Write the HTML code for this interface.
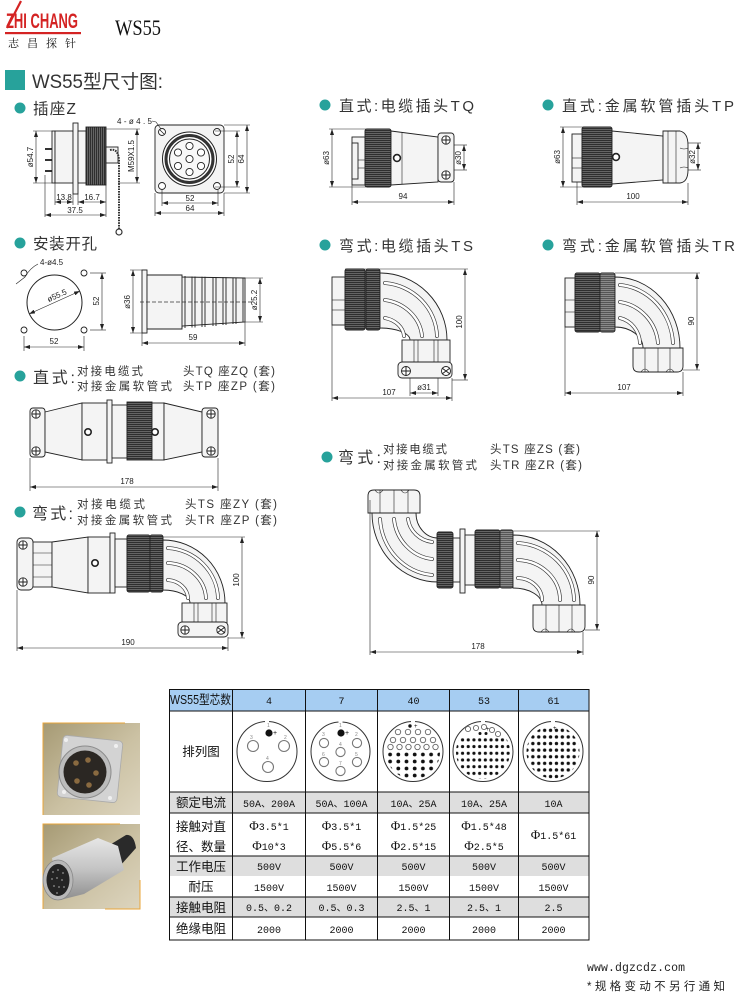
<!DOCTYPE html>
<html><head><meta charset="utf-8">
<style>
html,body{margin:0;padding:0;background:#fff;width:740px;height:996px;overflow:hidden;}
svg{display:block;}
.t{font-family:"Liberation Sans","Noto Sans CJK SC",sans-serif;fill:#333;}
.dim{font-family:"Liberation Sans",sans-serif;font-size:8px;fill:#222;}
.o{stroke:#222;stroke-width:0.9;fill:#f4f4f4;}
.k{stroke:#222;stroke-width:0.9;fill:url(#kh);}
.kv{stroke:#222;stroke-width:0.9;fill:url(#kv);}
.km{stroke:#222;stroke-width:0.9;fill:url(#km);}
.d{stroke:#222;stroke-width:0.6;fill:none;}
.da{stroke:#222;stroke-width:0.6;fill:none;marker-start:url(#ar);marker-end:url(#ar);}
.sl{stroke:#333;stroke-width:3.8;fill:none;stroke-linecap:round;}
.sw{stroke:#fff;stroke-width:2.5;fill:none;stroke-linecap:round;}
.sc{stroke:#222;stroke-width:0.9;fill:#fff;}
.cr{stroke:#222;stroke-width:1;}
.tb{font-family:"Liberation Sans","Noto Sans CJK SC",sans-serif;font-size:12.5px;fill:#111;}
.tv{font-family:"Liberation Mono","Noto Sans CJK SC",monospace;font-size:10px;fill:#111;}
.pn{font-family:"Liberation Sans",sans-serif;font-size:5px;fill:#888;}
</style></head><body>
<svg width="740" height="996" viewBox="0 0 740 996" xmlns="http://www.w3.org/2000/svg">
<defs>
<marker id="ar" viewBox="0 0 6 4" refX="6" refY="2" markerWidth="6" markerHeight="4" markerUnits="userSpaceOnUse" orient="auto-start-reverse"><path d="M0,0L6,2L0,4z" fill="#222"/></marker>
<pattern id="kh" width="4" height="2" patternUnits="userSpaceOnUse"><rect width="4" height="2" fill="#2e2e2e"/><rect y="1.3" width="4" height="0.7" fill="#7c7c7c"/></pattern>
<pattern id="kv" width="2" height="4" patternUnits="userSpaceOnUse"><rect width="2" height="4" fill="#2e2e2e"/><rect x="1.3" width="0.7" height="4" fill="#7c7c7c"/></pattern>
<pattern id="km" width="4" height="2" patternUnits="userSpaceOnUse"><rect width="4" height="2" fill="#555"/><rect y="1.3" width="4" height="0.7" fill="#a0a0a0"/></pattern>
<pattern id="d40" x="386" y="751" width="8.2" height="7" patternUnits="userSpaceOnUse"><circle cx="4.1" cy="3.5" r="1.9" fill="#111"/></pattern>
<pattern id="d53" x="454" y="736.5" width="5.7" height="6.7" patternUnits="userSpaceOnUse"><circle cx="2.85" cy="3.35" r="1.6" fill="#111"/></pattern>
<pattern id="d61" x="524" y="727" width="5.9" height="6.6" patternUnits="userSpaceOnUse"><circle cx="2.95" cy="3.3" r="1.7" fill="#111"/></pattern>
<clipPath id="c40"><circle cx="413" cy="752" r="27"/></clipPath>
<clipPath id="c53"><circle cx="483" cy="752" r="27"/></clipPath>
<clipPath id="c61"><circle cx="553" cy="752" r="26.5"/></clipPath>
<linearGradient id="ph" x1="0" y1="0" x2="1" y2="1"><stop offset="0" stop-color="#a69a74"/><stop offset="0.55" stop-color="#cbc1a3"/><stop offset="1" stop-color="#ddd5bf"/></linearGradient>
<linearGradient id="sil" x1="0" y1="0" x2="0" y2="1"><stop offset="0" stop-color="#e6e6e6"/><stop offset="0.5" stop-color="#c4c4c4"/><stop offset="1" stop-color="#8e8e8e"/></linearGradient>
</defs>

<!-- ===== LOGO ===== -->
<path d="M21,1 L7,28" stroke="#d42323" stroke-width="2.2"/>
<text x="6" y="28" font-family="Liberation Sans, sans-serif" font-weight="bold" font-size="21" fill="#d42323" textLength="72" lengthAdjust="spacingAndGlyphs">ZHI CHANG</text>
<rect x="5" y="32" width="76" height="2.2" fill="#d42323"/>
<text x="8" y="47" font-family="Noto Serif CJK SC, Noto Sans CJK SC, serif" font-size="11" fill="#111" textLength="68" lengthAdjust="spacing">志昌探针</text>
<text x="115" y="35" font-family="Liberation Serif, serif" font-size="22" fill="#111" textLength="46" lengthAdjust="spacingAndGlyphs">WS55</text>

<!-- ===== TITLE ===== -->
<rect x="5" y="70" width="20" height="20" fill="#27a29b"/>
<text x="32" y="88" class="t" font-size="19" textLength="131" lengthAdjust="spacingAndGlyphs">WS55型尺寸图:</text>

<!-- section titles -->
<g fill="#27a29b">
<circle cx="20" cy="108" r="5.5"/><circle cx="325" cy="105" r="5.5"/><circle cx="548" cy="105" r="5.5"/>
<circle cx="20" cy="243" r="5.5"/><circle cx="325" cy="245" r="5.5"/><circle cx="548" cy="245" r="5.5"/>
<circle cx="20" cy="376" r="5.5"/><circle cx="327" cy="457" r="5.5"/><circle cx="20" cy="512" r="5.5"/>
</g>
<text x="33" y="114" class="t" font-size="15.5" textLength="43">插座Z</text>
<text x="339" y="111" class="t" font-size="15" textLength="135">直式:电缆插头TQ</text>
<text x="562" y="111" class="t" font-size="15" textLength="172">直式:金属软管插头TP</text>
<text x="33" y="249" class="t" font-size="15.5" textLength="64">安装开孔</text>
<text x="339" y="251" class="t" font-size="15" textLength="134">弯式:电缆插头TS</text>
<text x="562" y="251" class="t" font-size="15" textLength="173">弯式:金属软管插头TR</text>

<text x="33" y="383" class="t" font-size="16" textLength="42">直式:</text>
<text x="77" y="375" class="t" font-size="11.5" textLength="66">对接电缆式</text>
<text x="77" y="390" class="t" font-size="11.5" textLength="95">对接金属软管式</text>
<text x="183" y="375" class="t" font-size="11.5" textLength="92">头TQ 座ZQ (套)</text>
<text x="183" y="390" class="t" font-size="11.5" textLength="92">头TP 座ZP (套)</text>

<text x="338" y="463" class="t" font-size="16" textLength="43">弯式:</text>
<text x="383" y="453" class="t" font-size="11.5" textLength="64">对接电缆式</text>
<text x="383" y="469" class="t" font-size="11.5" textLength="94">对接金属软管式</text>
<text x="490" y="453" class="t" font-size="11.5" textLength="90">头TS 座ZS (套)</text>
<text x="490" y="469" class="t" font-size="11.5" textLength="92">头TR 座ZR (套)</text>

<text x="32" y="519" class="t" font-size="16" textLength="41">弯式:</text>
<text x="77" y="508" class="t" font-size="11.5" textLength="68">对接电缆式</text>
<text x="77" y="524" class="t" font-size="11.5" textLength="95">对接金属软管式</text>
<text x="185" y="508" class="t" font-size="11.5" textLength="92">头TS 座ZY (套)</text>
<text x="185" y="524" class="t" font-size="11.5" textLength="92">头TR 座ZP (套)</text>

<!-- ===== 插座Z side view ===== -->
<g>
<line x1="45" y1="149" x2="55" y2="149" stroke="#333" stroke-width="2"/>
<line x1="45" y1="160" x2="55" y2="160" stroke="#333" stroke-width="2"/>
<line x1="45" y1="171" x2="55" y2="171" stroke="#333" stroke-width="2"/>
<rect class="o" x="52" y="131" width="3" height="52"/>
<rect class="o" x="55" y="131" width="18" height="52"/>
<rect class="o" x="73" y="123" width="5" height="71"/>
<rect class="o" x="78" y="131" width="8" height="52"/>
<rect class="kv" x="86" y="127" width="20" height="58"/>
<rect class="o" x="106" y="147" width="12" height="16"/>
<path d="M110,150 Q118,148 119,160 L119,229" stroke="#333" stroke-width="2" fill="none" stroke-dasharray="1.6 1"/>
<circle cx="119" cy="232" r="3" fill="none" stroke="#333" stroke-width="1.2"/>
</g>
<line class="d" x1="33" y1="131" x2="52" y2="131"/><line class="d" x1="33" y1="183" x2="52" y2="183"/>
<line class="da" x1="36" y1="131" x2="36" y2="183"/>
<text class="dim" transform="translate(33,157) rotate(-90)" text-anchor="middle">ø54.7</text>
<line class="d" x1="106" y1="129" x2="140" y2="129"/><line class="d" x1="118" y1="183" x2="140" y2="183"/>
<line class="da" x1="137" y1="129" x2="137" y2="183"/>
<text class="dim" transform="translate(134,156) rotate(-90)" text-anchor="middle">M59X1.5</text>
<line class="d" x1="45" y1="175" x2="45" y2="217"/><line class="d" x1="55" y1="183" x2="55" y2="205"/>
<line class="d" x1="73" y1="194" x2="73" y2="205"/><line class="d" x1="78" y1="194" x2="78" y2="205"/>
<line class="d" x1="106" y1="185" x2="106" y2="217"/>
<line class="da" x1="55" y1="202" x2="73" y2="202"/><line class="da" x1="78" y1="202" x2="106" y2="202"/>
<line class="da" x1="45" y1="215" x2="106" y2="215"/>
<text class="dim" x="64" y="200" text-anchor="middle">13.8</text>
<text class="dim" x="92" y="200" text-anchor="middle">16.7</text>
<text class="dim" x="75" y="213" text-anchor="middle">37.5</text>

<!-- 插座Z front view -->
<rect class="o" x="155" y="125" width="69" height="68" rx="4"/>
<g class="sc"><circle cx="162" cy="132" r="3.5"/><circle cx="217" cy="132" r="3.5"/><circle cx="162" cy="186" r="3.5"/><circle cx="217" cy="186" r="3.5"/></g>
<line x1="160" y1="130" x2="164" y2="134" stroke="#222" stroke-width="0.8"/>
<circle cx="189.5" cy="159" r="27" fill="#fff" stroke="#222" stroke-width="1"/>
<circle cx="189.5" cy="159" r="23.5" fill="none" stroke="#333" stroke-width="3"/>
<circle cx="189.5" cy="159" r="20" fill="#f8f8f8" stroke="#222" stroke-width="1"/>
<g class="sc" stroke-width="1.1"><circle cx="189.5" cy="146" r="3.6"/><circle cx="178" cy="152.5" r="3.6"/><circle cx="201" cy="152.5" r="3.6"/><circle cx="189.5" cy="159" r="3.6"/><circle cx="178" cy="166" r="3.6"/><circle cx="201" cy="166" r="3.6"/><circle cx="189.5" cy="172" r="3.6"/></g>
<text class="dim" x="117" y="124" font-size="8.5" textLength="35">4-ø4.5</text>
<path class="d" d="M152,121 L156,122 L161,129"/>
<line class="d" x1="215" y1="131" x2="240" y2="131"/><line class="d" x1="215" y1="187" x2="240" y2="187"/>
<line class="d" x1="224" y1="125" x2="250" y2="125"/><line class="d" x1="224" y1="193" x2="250" y2="193"/>
<line class="da" x1="237" y1="131" x2="237" y2="187"/><line class="da" x1="247" y1="125" x2="247" y2="193"/>
<text class="dim" transform="translate(234,159) rotate(-90)" text-anchor="middle">52</text>
<text class="dim" transform="translate(244,159) rotate(-90)" text-anchor="middle">64</text>
<line class="d" x1="162" y1="190" x2="162" y2="206"/><line class="d" x1="218" y1="190" x2="218" y2="206"/>
<line class="d" x1="155" y1="193" x2="155" y2="216"/><line class="d" x1="224" y1="193" x2="224" y2="216"/>
<line class="da" x1="162" y1="203" x2="218" y2="203"/><line class="da" x1="155" y1="213" x2="224" y2="213"/>
<text class="dim" x="190" y="201" text-anchor="middle">52</text>
<text class="dim" x="190" y="211" text-anchor="middle">64</text>

<!-- ===== TQ ===== -->
<line class="d" x1="329" y1="129" x2="366" y2="129"/><line class="d" x1="329" y1="187" x2="366" y2="187"/>
<line class="da" x1="332" y1="129" x2="332" y2="187"/>
<text class="dim" transform="translate(329,158) rotate(-90)" text-anchor="middle">ø63</text>
<rect class="o" x="352" y="137" width="13" height="48"/>
<rect class="o" x="352" y="143" width="6" height="36"/>
<line class="d" x1="358" y1="160" x2="365" y2="160"/><line class="d" x1="358" y1="168" x2="365" y2="168"/>
<rect class="k" x="365" y="129" width="26" height="58" rx="2"/>
<path class="o" d="M391,131 L438,137 L438,182 L391,185 Z"/>
<line class="d" x1="402" y1="132.5" x2="402" y2="184.5"/>
<circle cx="397" cy="158" r="3.4" fill="#fff" stroke="#222" stroke-width="1.6"/>
<rect class="o" x="438" y="133" width="16" height="49" rx="3"/>
<g class="sc"><circle cx="446" cy="140" r="4.2"/><circle cx="446" cy="175" r="4.2"/></g>
<path class="cr" d="M442,140h8M446,136v8M442,175h8M446,171v8"/>
<line class="d" x1="454" y1="145" x2="467" y2="145"/><line class="d" x1="454" y1="170" x2="467" y2="170"/>
<line class="da" x1="464" y1="145" x2="464" y2="170"/>
<text class="dim" transform="translate(461,158) rotate(-90)" text-anchor="middle">ø30</text>
<line class="d" x1="352" y1="185" x2="352" y2="205"/><line class="d" x1="454" y1="182" x2="454" y2="205"/>
<line class="da" x1="352" y1="202" x2="454" y2="202"/>
<text class="dim" x="403" y="199" text-anchor="middle">94</text>

<!-- ===== TP ===== -->
<line class="d" x1="560" y1="127" x2="590" y2="127"/><line class="d" x1="560" y1="187" x2="590" y2="187"/>
<line class="da" x1="563" y1="127" x2="563" y2="187"/>
<text class="dim" transform="translate(560,157) rotate(-90)" text-anchor="middle">ø63</text>
<rect class="o" x="572" y="134" width="10" height="48"/>
<line class="d" x1="572" y1="158" x2="582" y2="158"/><line class="d" x1="572" y1="168" x2="582" y2="168"/>
<rect class="k" x="582" y="127" width="30" height="60" rx="2"/>
<path class="o" d="M612,131 L663,136 L663,180 L612,184 Z"/>
<circle cx="616" cy="157" r="3.4" fill="#fff" stroke="#222" stroke-width="1.6"/>
<path class="o" d="M663,131 L680,131 Q688,133 688,145 L688,170 Q688,182 680,183 L663,183 Z"/>
<path class="d" d="M668,131 V183 M676,131 V183 M680,148 q4,2 8,0 M680,168 q4,-2 8,0" stroke-width="0.8"/>
<line class="d" x1="688" y1="143" x2="701" y2="143"/><line class="d" x1="688" y1="170" x2="701" y2="170"/>
<line class="da" x1="698" y1="143" x2="698" y2="170"/>
<text class="dim" transform="translate(695,157) rotate(-90)" text-anchor="middle">ø32</text>
<line class="d" x1="577" y1="182" x2="577" y2="205"/><line class="d" x1="688" y1="183" x2="688" y2="205"/>
<line class="da" x1="577" y1="202" x2="688" y2="202"/>
<text class="dim" x="633" y="199" text-anchor="middle">100</text>

<!-- ===== 安装开孔 ===== -->
<circle cx="54.5" cy="302.5" r="27.5" fill="none" stroke="#222" stroke-width="1"/>
<g fill="#fff" stroke="#222" stroke-width="0.9"><circle cx="24" cy="273" r="3"/><circle cx="84" cy="273" r="3"/><circle cx="24" cy="330" r="3"/><circle cx="84" cy="330" r="3"/></g>
<line class="da" x1="29" y1="314" x2="80" y2="291"/>
<text class="dim" transform="translate(58,298) rotate(-24)" text-anchor="middle">ø55.5</text>
<path class="d" d="M16,284 L25,277 Q30,268 38,264"/>
<text class="dim" x="40" y="265">4-ø4.5</text>
<line class="d" x1="90" y1="273" x2="106" y2="273"/><line class="d" x1="90" y1="330" x2="106" y2="330"/>
<line class="da" x1="102" y1="273" x2="102" y2="330"/>
<text class="dim" transform="translate(99,301) rotate(-90)" text-anchor="middle">52</text>
<line class="d" x1="24" y1="336" x2="24" y2="351"/><line class="d" x1="84" y1="336" x2="84" y2="351"/>
<line class="da" x1="24" y1="347" x2="84" y2="347"/>
<text class="dim" x="54" y="344" text-anchor="middle">52</text>

<line class="d" x1="130" y1="270" x2="147" y2="270"/><line class="d" x1="130" y1="333" x2="147" y2="333"/>
<line class="da" x1="133" y1="270" x2="133" y2="333"/>
<text class="dim" transform="translate(130,302) rotate(-90)" text-anchor="middle">ø36</text>
<rect class="o" x="142" y="270" width="5" height="63"/>
<path class="o" d="M147,275 L182,275 L182,277 L245,278 L245,322 L182,326 L182,329 L147,329 Z"/>
<g stroke="#222" stroke-width="0.9"><path d="M182,276 V328 M185,276 V328 M192,276.5 V327.5 M195,276.5 V327.5 M202,276.8 V327 M205,276.8 V327 M213,277 V326 M216,277 V326 M223,277.3 V325 M226,277.3 V325 M233,277.6 V324 M236,277.6 V324 M243,278 V322"/></g>
<line x1="140" y1="302" x2="252" y2="302" stroke="#333" stroke-width="0.7" stroke-dasharray="4 2"/>
<line class="d" x1="245" y1="278" x2="263" y2="278"/><line class="d" x1="245" y1="322" x2="263" y2="322"/>
<line class="da" x1="260" y1="278" x2="260" y2="322"/>
<text class="dim" transform="translate(257,300) rotate(-90)" text-anchor="middle">ø25.2</text>
<line class="d" x1="142" y1="333" x2="142" y2="346"/><line class="d" x1="245" y1="322" x2="245" y2="346"/>
<line class="da" x1="142" y1="343" x2="245" y2="343"/>
<text class="dim" x="193" y="340" text-anchor="middle">59</text>

<!-- ===== 直式 对接 178 ===== -->
<rect class="o" x="30" y="408" width="15" height="49" rx="3"/>
<g class="sc"><circle cx="36" cy="414" r="4.2"/><circle cx="36" cy="451" r="4.2"/></g>
<path class="cr" d="M32,414h8M36,410v8M32,451h8M36,447v8"/>
<path class="o" d="M45,412 L82,403 L82,460 L45,452 Z"/>
<rect class="o" x="82" y="403" width="25" height="57"/>
<circle cx="88" cy="432" r="3.2" fill="#fff" stroke="#222" stroke-width="1.6"/>
<rect class="o" x="107" y="400" width="5" height="63"/>
<rect class="o" x="112" y="405" width="15" height="53"/>
<rect class="k" x="127" y="402" width="25" height="58"/>
<rect class="o" x="152" y="403" width="12" height="57"/>
<circle cx="155" cy="432" r="3.2" fill="#fff" stroke="#222" stroke-width="1.6"/>
<path class="o" d="M164,403 L202,412 L202,452 L164,460 Z"/>
<rect class="o" x="202" y="408" width="16" height="49" rx="3"/>
<g class="sc"><circle cx="211" cy="414" r="4.2"/><circle cx="211" cy="451" r="4.2"/></g>
<path class="cr" d="M207,414h8M211,410v8M207,451h8M211,447v8"/>
<line class="d" x1="30" y1="458" x2="30" y2="491"/><line class="d" x1="218" y1="458" x2="218" y2="491"/>
<line class="da" x1="30" y1="487" x2="218" y2="487"/>
<text class="dim" x="127" y="484" text-anchor="middle">178</text>

<!-- ===== TS ===== -->
<rect class="o" x="332" y="277" width="13" height="48"/>
<line class="d" x1="332" y1="300" x2="345" y2="300"/><line class="d" x1="332" y1="310" x2="345" y2="310"/>
<rect class="k" x="345" y="269" width="20" height="61" rx="2"/>
<rect class="k" x="366" y="269" width="14" height="61" rx="2"/>
<path class="o" d="M380,273 A67,67 0 0 1 447,340 L410,340 A30,12 0 0 0 380,328 Z"/>
<path class="sl" d="M385,283 A57,55 0 0 1 437,336"/><path class="sw" d="M385,283 A57,55 0 0 1 437,336"/>
<path class="sl" d="M385,300 A44,40 0 0 1 422,336"/><path class="sw" d="M385,300 A44,40 0 0 1 422,336"/>
<path class="sl" d="M385,318 A25,20 0 0 1 404,336"/><path class="sw" d="M385,318 A25,20 0 0 1 404,336"/>
<rect class="o" x="402" y="340" width="48" height="24"/>
<path class="d" d="M414,340V364M418,340V364M434,340V364M438,340V364" stroke-width="0.8"/>
<rect class="o" x="398" y="362" width="54" height="16" rx="4"/>
<g class="sc"><circle cx="406" cy="371" r="4.5"/><circle cx="446" cy="371" r="4.5"/></g>
<path class="cr" d="M401,371h10M406,366v10M442,368l8,6M442,374l8,-6"/>
<line class="d" x1="345" y1="269" x2="468" y2="269"/><line class="d" x1="452" y1="380" x2="468" y2="380"/>
<line class="da" x1="465" y1="269" x2="465" y2="380"/>
<text class="dim" transform="translate(462,322) rotate(-90)" text-anchor="middle">100</text>
<line class="d" x1="410" y1="378" x2="410" y2="396"/><line class="d" x1="438" y1="378" x2="438" y2="396"/>
<line class="da" x1="410" y1="393" x2="438" y2="393"/>
<text class="dim" x="424" y="390" text-anchor="middle">ø31</text>
<line class="d" x1="332" y1="325" x2="332" y2="401"/><line class="d" x1="452" y1="378" x2="452" y2="401"/>
<line class="da" x1="332" y1="398" x2="452" y2="398"/>
<text class="dim" x="389" y="395" text-anchor="middle">107</text>

<!-- ===== TR ===== -->
<rect class="o" x="565" y="278" width="10" height="49"/>
<line class="d" x1="565" y1="300" x2="575" y2="300"/><line class="d" x1="565" y1="312" x2="575" y2="312"/>
<rect class="k" x="575" y="273" width="25" height="59" rx="2"/>
<rect class="km" x="600" y="273" width="15" height="59" rx="2"/>
<path class="o" d="M615,277 A65,71 0 0 1 680,348 L643,348 A28,21 0 0 0 615,327 Z"/>
<path class="sl" d="M620,285 A58,62 0 0 1 673,343"/><path class="sw" d="M620,285 A58,62 0 0 1 673,343"/>
<path class="sl" d="M620,302 A45,46 0 0 1 658,343"/><path class="sw" d="M620,302 A45,46 0 0 1 658,343"/>
<path class="sl" d="M620,318 A26,27 0 0 1 640,343"/><path class="sw" d="M620,318 A26,27 0 0 1 640,343"/>
<path class="o" d="M633,348 L683,348 L683,366 Q683,372 677,372 L639,372 Q633,372 633,366 Z"/>
<path class="d" d="M645,348V372M658,348V372M670,348V372M641,372 q4,-6 8,0 M666,372 q4,-6 8,0" stroke-width="0.8"/>
<line class="d" x1="615" y1="273" x2="700" y2="273"/><line class="d" x1="683" y1="370" x2="700" y2="370"/>
<line class="da" x1="697" y1="273" x2="697" y2="370"/>
<text class="dim" transform="translate(694,321) rotate(-90)" text-anchor="middle">90</text>
<line class="d" x1="565" y1="327" x2="565" y2="396"/><line class="d" x1="683" y1="372" x2="683" y2="396"/>
<line class="da" x1="565" y1="393" x2="683" y2="393"/>
<text class="dim" x="624" y="390" text-anchor="middle">107</text>

<!-- ===== ZY 190 ===== -->
<rect class="o" x="30" y="542" width="22" height="45"/>
<path class="d" d="M30,553H52M30,565H52M30,577H52" stroke-width="0.8"/>
<rect class="o" x="17" y="538" width="16" height="52" rx="4"/>
<g class="sc"><circle cx="23" cy="545" r="4.2"/><circle cx="23" cy="582" r="4.2"/></g>
<path class="cr" d="M19,545h8M23,541v8M19,582h8M23,578v8"/>
<path class="o" d="M52,542 L88,537 L88,593 L52,587 Z"/>
<rect class="o" x="88" y="537" width="22" height="56"/>
<circle cx="95" cy="563" r="3.2" fill="#fff" stroke="#222" stroke-width="1.6"/>
<rect class="o" x="110" y="533" width="5" height="60"/>
<rect class="o" x="115" y="539" width="12" height="48"/>
<rect class="k" x="127" y="535" width="23" height="57" rx="2"/>
<rect class="k" x="150" y="535" width="13" height="57" rx="2"/>
<path class="o" d="M163,540 A62,63 0 0 1 225,603 L190,603 A27,13 0 0 0 163,590 Z"/>
<path class="sl" d="M168,548 A54,52 0 0 1 218,598"/><path class="sw" d="M168,548 A54,52 0 0 1 218,598"/>
<path class="sl" d="M168,563 A40,37 0 0 1 206,598"/><path class="sw" d="M168,563 A40,37 0 0 1 206,598"/>
<path class="sl" d="M168,580 A22,19 0 0 1 188,598"/><path class="sw" d="M168,580 A22,19 0 0 1 188,598"/>
<rect class="o" x="182" y="603" width="45" height="21"/>
<path class="d" d="M194,603V624M198,603V624M212,603V624M216,603V624" stroke-width="0.8"/>
<rect class="o" x="178" y="622" width="50" height="15" rx="4"/>
<g class="sc"><circle cx="185" cy="630" r="4.2"/><circle cx="221" cy="630" r="4.2"/></g>
<path class="cr" d="M181,630h8M185,626v8M217,627l8,6M217,633l8,-6"/>
<line class="d" x1="163" y1="537" x2="245" y2="537"/><line class="d" x1="228" y1="638" x2="245" y2="638"/>
<line class="da" x1="242" y1="537" x2="242" y2="638"/>
<text class="dim" transform="translate(239,580) rotate(-90)" text-anchor="middle">100</text>
<line class="d" x1="17" y1="590" x2="17" y2="651"/><line class="d" x1="228" y1="637" x2="228" y2="651"/>
<line class="da" x1="17" y1="648" x2="228" y2="648"/>
<text class="dim" x="128" y="645" text-anchor="middle">190</text>

<!-- ===== ZS 178 ===== -->
<path class="o" d="M372,513 A66,69 0 0 0 438,582 L438,538 A22,25 0 0 1 416,513 Z"/>
<path class="sl" d="M380,519 A57,60 0 0 0 432,575"/><path class="sw" d="M380,519 A57,60 0 0 0 432,575"/>
<path class="sl" d="M394,519 A43,45 0 0 0 432,559"/><path class="sw" d="M394,519 A43,45 0 0 0 432,559"/>
<path class="sl" d="M408,519 A28,27 0 0 0 432,542"/><path class="sw" d="M408,519 A28,27 0 0 0 432,542"/>
<path class="o" d="M368,513 L368,496 Q368,490 374,490 L414,490 Q420,490 420,496 L420,513 Z"/>
<path class="d" d="M380,490V513M394,490V513M408,490V513M375,490 q4,6 8,0 M401,490 q4,6 8,0" stroke-width="0.8"/>
<rect class="k" x="437" y="532" width="16" height="56" rx="2"/>
<rect class="o" x="453" y="538" width="7" height="44"/>
<rect class="o" x="460" y="529" width="5" height="64"/>
<rect class="o" x="465" y="535" width="10" height="50"/>
<rect class="k" x="475" y="530" width="25" height="58" rx="2"/>
<rect class="km" x="500" y="530" width="13" height="58" rx="2"/>
<path class="o" d="M513,535 A67,70 0 0 1 580,605 L542,605 A29,17 0 0 0 513,588 Z"/>
<path class="sl" d="M518,543 A60,58 0 0 1 574,600"/><path class="sw" d="M518,543 A60,58 0 0 1 574,600"/>
<path class="sl" d="M518,560 A44,40 0 0 1 560,600"/><path class="sw" d="M518,560 A44,40 0 0 1 560,600"/>
<path class="sl" d="M518,578 A25,22 0 0 1 542,600"/><path class="sw" d="M518,578 A25,22 0 0 1 542,600"/>
<path class="o" d="M533,605 L585,605 L585,626 Q585,632 579,632 L539,632 Q533,632 533,626 Z"/>
<path class="d" d="M546,605V632M559,605V632M572,605V632M541,632 q4,-6 8,0 M567,632 q4,-6 8,0" stroke-width="0.8"/>
<line class="d" x1="513" y1="531" x2="600" y2="531"/><line class="d" x1="585" y1="630" x2="600" y2="630"/>
<line class="da" x1="597" y1="531" x2="597" y2="630"/>
<text class="dim" transform="translate(594,580) rotate(-90)" text-anchor="middle">90</text>
<line class="d" x1="370" y1="500" x2="370" y2="655"/><line class="d" x1="583" y1="632" x2="583" y2="655"/>
<line class="da" x1="370" y1="652" x2="583" y2="652"/>
<text class="dim" x="478" y="649" text-anchor="middle">178</text>

<!-- ===== PHOTOS ===== -->
<rect x="43" y="723" width="97" height="92" fill="url(#ph)"/>
<path d="M43,815 V723 H125" stroke="#e8a53a" stroke-width="1" fill="none"/>
<rect x="60" y="738" width="60" height="62" rx="4" fill="#d3d3d3" stroke="#aaa" stroke-width="0.8" transform="rotate(6 90 769)"/>
<g fill="#f0f0f0"><circle cx="66" cy="740" r="2"/><circle cx="116" cy="746" r="2"/><circle cx="110" cy="798" r="2"/><circle cx="64" cy="792" r="2"/></g>
<circle cx="85" cy="772" r="26" fill="#bcbcbc" stroke="#8c8c8c" stroke-width="1"/>
<circle cx="85" cy="772" r="21.5" fill="#2b2723"/>
<g fill="#8a6a40"><circle cx="76" cy="763" r="2.8"/><circle cx="88" cy="760" r="2.8"/><circle cx="96" cy="773" r="2.8"/><circle cx="77" cy="781" r="2.8"/><circle cx="89" cy="785" r="2.8"/></g>

<rect x="43" y="824" width="97" height="85" fill="url(#ph)"/>
<path d="M43,909 V824 H120 M105,909 H140 V880" stroke="#e8a53a" stroke-width="1" fill="none"/>
<path d="M108,846 L126,835 Q134,834 136,848 L120,866 Z" fill="#2a2a2a"/>
<path d="M52,858 L98,838 L118,846 L124,870 L84,894 L60,900 Z" fill="url(#sil)"/>
<ellipse cx="58" cy="880" rx="15" ry="20" fill="#b8b8b8" stroke="#888" stroke-width="0.8"/>
<ellipse cx="58" cy="880" rx="11.5" ry="16" fill="#242424"/>
<g fill="#7a7a7a"><circle cx="53" cy="872" r="1"/><circle cx="58" cy="870" r="1"/><circle cx="63" cy="873" r="1"/><circle cx="52" cy="879" r="1"/><circle cx="57" cy="878" r="1"/><circle cx="62" cy="880" r="1"/><circle cx="54" cy="886" r="1"/><circle cx="59" cy="887" r="1"/><circle cx="64" cy="887" r="1"/><circle cx="57" cy="893" r="1"/></g>

<!-- ===== TABLE ===== -->
<rect x="169" y="689" width="420" height="22" fill="#a6cdf2"/>
<rect x="169" y="792" width="420" height="21" fill="#dedede"/>
<rect x="169" y="856" width="420" height="20" fill="#dedede"/>
<rect x="169" y="897" width="420" height="20" fill="#dedede"/>
<g stroke="#111" stroke-width="1" fill="none">
<rect x="169.5" y="689.5" width="419.5" height="250.5"/>
<path d="M169,711H589M169,792H589M169,813H589M169,856H589M169,897H589M169,917H589"/>
<path d="M232.5,689V940M305.5,689V940M377.5,689V940M449.5,689V940M518.5,689V940"/>
</g>
<text x="170" y="704" class="tb" font-size="11" textLength="61" lengthAdjust="spacingAndGlyphs">WS55型芯数</text>
<g class="tv" text-anchor="middle" font-size="10.5">
<text x="269" y="704">4</text><text x="341.5" y="704">7</text><text x="413.5" y="704">40</text><text x="484" y="704">53</text><text x="553.5" y="704">61</text>
</g>
<g class="tb" text-anchor="middle">
<text x="201" y="756">排列图</text>
<text x="201" y="807">额定电流</text>
<text x="201" y="831">接触对直</text>
<text x="201" y="851">径、数量</text>
<text x="201" y="871">工作电压</text>
<text x="201" y="891">耐压</text>
<text x="201" y="912">接触电阻</text>
<text x="201" y="933">绝缘电阻</text>
</g>
<g class="tv" text-anchor="middle">
<text x="269" y="807">50A、200A</text><text x="341.5" y="807">50A、100A</text><text x="413.5" y="807">10A、25A</text><text x="484" y="807">10A、25A</text><text x="553.5" y="807">10A</text>
<text x="269" y="830"><tspan font-size="13" font-family="Liberation Serif,serif">Φ</tspan>3.5*1</text>
<text x="269" y="850"><tspan font-size="13" font-family="Liberation Serif,serif">Φ</tspan>10*3</text>
<text x="341.5" y="830"><tspan font-size="13" font-family="Liberation Serif,serif">Φ</tspan>3.5*1</text>
<text x="341.5" y="850"><tspan font-size="13" font-family="Liberation Serif,serif">Φ</tspan>5.5*6</text>
<text x="413.5" y="830"><tspan font-size="13" font-family="Liberation Serif,serif">Φ</tspan>1.5*25</text>
<text x="413.5" y="850"><tspan font-size="13" font-family="Liberation Serif,serif">Φ</tspan>2.5*15</text>
<text x="484" y="830"><tspan font-size="13" font-family="Liberation Serif,serif">Φ</tspan>1.5*48</text>
<text x="484" y="850"><tspan font-size="13" font-family="Liberation Serif,serif">Φ</tspan>2.5*5</text>
<text x="553.5" y="839"><tspan font-size="13" font-family="Liberation Serif,serif">Φ</tspan>1.5*61</text>
<text x="269" y="870">500V</text><text x="341.5" y="870">500V</text><text x="413.5" y="870">500V</text><text x="484" y="870">500V</text><text x="553.5" y="870">500V</text>
<text x="269" y="891">1500V</text><text x="341.5" y="891">1500V</text><text x="413.5" y="891">1500V</text><text x="484" y="891">1500V</text><text x="553.5" y="891">1500V</text>
<text x="269" y="911">0.5、0.2</text><text x="341.5" y="911">0.5、0.3</text><text x="413.5" y="911">2.5、1</text><text x="484" y="911">2.5、1</text><text x="553.5" y="911">2.5</text>
<text x="269" y="933">2000</text><text x="341.5" y="933">2000</text><text x="413.5" y="933">2000</text><text x="484" y="933">2000</text><text x="553.5" y="933">2000</text>
</g>

<!-- pin diagrams -->
<g fill="#fff" stroke="#333" stroke-width="1">
<circle cx="267" cy="751.5" r="30"/><circle cx="340.5" cy="751.5" r="29.5"/><circle cx="413" cy="751.5" r="30"/><circle cx="483" cy="751.5" r="30"/><circle cx="553" cy="751.5" r="30"/>
</g>
<g fill="#fff"><rect x="265" y="720" width="4" height="3"/><rect x="338.5" y="720" width="4" height="3"/><rect x="411" y="720" width="4" height="3"/><rect x="481" y="720" width="4" height="3"/><rect x="551" y="720" width="4" height="3"/></g>
<circle cx="269" cy="733" r="3.6" fill="#111"/>
<text x="273" y="735" font-family="Liberation Sans,sans-serif" font-size="7" fill="#111">+</text>
<g fill="none" stroke="#777" stroke-width="1.1"><circle cx="253" cy="746" r="5.5"/><circle cx="284" cy="746" r="5.5"/><circle cx="268" cy="767" r="5.5"/></g>
<g class="pn"><text x="267" y="727">1</text><text x="250" y="739">3</text><text x="284" y="739">2</text><text x="266" y="760">4</text></g>
<circle cx="341" cy="733" r="3.6" fill="#111"/>
<text x="345" y="735" font-family="Liberation Sans,sans-serif" font-size="7" fill="#111">+</text>
<g fill="none" stroke="#777" stroke-width="1.1"><circle cx="324" cy="743" r="4.6"/><circle cx="357" cy="743" r="4.6"/><circle cx="340.5" cy="752" r="4.6"/><circle cx="324" cy="762" r="4.6"/><circle cx="357" cy="762" r="4.6"/><circle cx="340.5" cy="771" r="4.6"/></g>
<g class="pn"><text x="339" y="727">1</text><text x="322" y="736">3</text><text x="355" y="736">2</text><text x="339" y="746">4</text><text x="322" y="756">6</text><text x="355" y="756">5</text><text x="339" y="765">7</text></g>
<!-- 40 -->
<circle cx="410" cy="726" r="1.7" fill="#111"/><text x="414" y="728" font-family="Liberation Sans,sans-serif" font-size="6" fill="#111">+</text>
<g fill="none" stroke="#666" stroke-width="0.9">
<circle cx="398" cy="732" r="2.7"/><circle cx="408" cy="732" r="2.7"/><circle cx="418" cy="732" r="2.7"/><circle cx="428" cy="732" r="2.7"/>
<circle cx="393" cy="740" r="2.7"/><circle cx="403" cy="740" r="2.7"/><circle cx="413" cy="740" r="2.7"/><circle cx="423" cy="740" r="2.7"/><circle cx="433" cy="740" r="2.7"/>
<circle cx="390.5" cy="747" r="2.7"/><circle cx="399.5" cy="747" r="2.7"/><circle cx="408.5" cy="747" r="2.7"/><circle cx="417.5" cy="747" r="2.7"/><circle cx="426.5" cy="747" r="2.7"/><circle cx="435.5" cy="747" r="2.7"/>
</g>
<rect x="386" y="751" width="56" height="28" fill="url(#d40)" clip-path="url(#c40)"/>
<!-- 53 -->
<g fill="none" stroke="#666" stroke-width="0.9"><circle cx="468" cy="729" r="2.6"/><circle cx="476" cy="728" r="2.6"/><circle cx="484" cy="727" r="2.6"/><circle cx="492" cy="730" r="2.6"/><circle cx="498" cy="734" r="2.6"/></g>
<text x="486" y="731" font-family="Liberation Sans,sans-serif" font-size="6" fill="#111">+</text>
<circle cx="480" cy="733.5" r="1.5" fill="#111"/><circle cx="486" cy="733.5" r="1.5" fill="#111"/>
<rect x="454" y="737" width="58" height="42" fill="url(#d53)" clip-path="url(#c53)"/>
<!-- 61 -->
<text x="553" y="730" font-family="Liberation Sans,sans-serif" font-size="6" fill="#111">+</text>
<rect x="524" y="727" width="58" height="52" fill="url(#d61)" clip-path="url(#c61)"/>

<!-- ===== FOOTER ===== -->
<text x="587" y="971" font-family="Liberation Mono, monospace" font-size="11.5" fill="#222" textLength="98">www.dgzcdz.com</text>
<text x="587" y="990" font-family="Liberation Sans, Noto Sans CJK SC, sans-serif" font-size="11.5" fill="#222" textLength="138">*规格变动不另行通知</text>
</svg>
</body></html>
